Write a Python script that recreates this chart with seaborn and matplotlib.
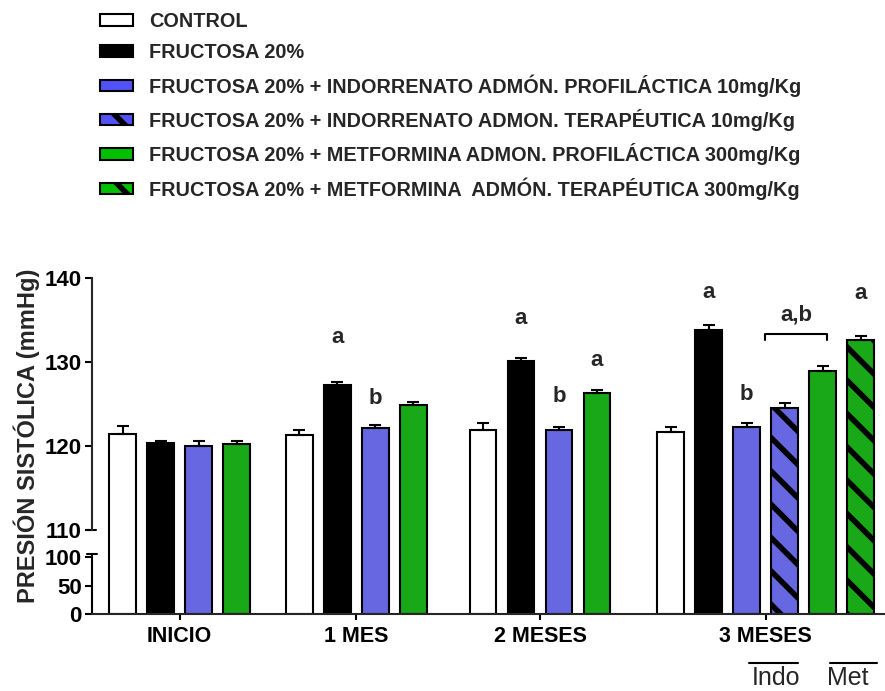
import numpy as np
import pandas as pd
import matplotlib
matplotlib.use("Agg")
import matplotlib.pyplot as plt
import matplotlib.transforms as mtransforms
from matplotlib.patches import Patch
import seaborn as sns

# ---------------- data ----------------
periods = ["INICIO", "1 MES", "2 MESES", "3 MESES"]
series = [
    "CONTROL",
    "FRUCTOSA 20%",
    "FRUCTOSA 20% + INDORRENATO ADMÓN. PROFILÁCTICA 10mg/Kg",
    "FRUCTOSA 20% + INDORRENATO ADMON. TERAPÉUTICA 10mg/Kg",
    "FRUCTOSA 20% + METFORMINA ADMON. PROFILÁCTICA 300mg/Kg",
    "FRUCTOSA 20% + METFORMINA  ADMÓN. TERAPÉUTICA 300mg/Kg",
]
control_mean = [121.5, 121.3, 121.9, 121.7]
control_sem = [0.9, 0.6, 0.8, 0.6]
fructosa_mean = [120.4, 127.3, 130.2, 133.8]
fructosa_sem = [0.2, 0.3, 0.3, 0.6]
indo_prof_mean = [120.0, 122.1, 121.9, 122.3]
indo_prof_sem = [0.6, 0.4, 0.4, 0.5]
indo_ter_mean = [None, None, None, 124.5]
indo_ter_sem = [None, None, None, 0.6]
met_prof_mean = [120.2, 124.9, 126.3, 129.0]
met_prof_sem = [0.4, 0.35, 0.35, 0.5]
met_ter_mean = [None, None, None, 132.65]
met_ter_sem = [None, None, None, 0.5]

y_ticks = [0, 50, 100, 110, 120, 130, 140]
y_label = "PRESIÓN SISTÓLICA (mmHg)"

# significance letters: (period, series index, text, baseline level in mmHg)
sig_letters = [
    ("1 MES", 1, "a", 132.3), ("1 MES", 2, "b", 125.05),
    ("2 MESES", 1, "a", 134.55), ("2 MESES", 2, "b", 125.25), ("2 MESES", 4, "a", 129.5),
    ("3 MESES", 1, "a", 137.7), ("3 MESES", 2, "b", 125.45), ("3 MESES", 5, "a", 137.5),
]
bracket_label = "a,b"

# ---------------- style ----------------
sns.set_style("ticks")
plt.rcParams["font.family"] = ["Liberation Sans", "DejaVu Sans"]
plt.rcParams["font.weight"] = "bold"
plt.rcParams["hatch.linewidth"] = 4.0
plt.rcParams["axes.linewidth"] = 1.5

colors = ["#FFFFFF", "#000000", "#5252F7", "#5252F7", "#00C000", "#00C000"]
hatches = [None, None, None, "\\", None, "\\"]

# ---------------- layout (bar units) ----------------
group_centers = [1.516, 6.17, 11.0, 16.94]
bar_pitch = 1.0

means = [control_mean, fructosa_mean, indo_prof_mean, indo_ter_mean, met_prof_mean, met_ter_mean]
sems = [control_sem, fructosa_sem, indo_prof_sem, indo_ter_sem, met_prof_sem, met_ter_sem]

rows = []
pos_lookup = {}
for gi, p in enumerate(periods):
    present = [si for si in range(len(series)) if means[si][gi] is not None]
    n = len(present)
    for k, si in enumerate(present):
        x = group_centers[gi] + (k - (n - 1) / 2) * bar_pitch
        pos_lookup[(p, si)] = x
        rows.append({"x": x, "value": means[si][gi], "sem": sems[si][gi],
                     "series": series[si], "period": p})
df = pd.DataFrame(rows)

fig = plt.figure(figsize=(8.85, 6.91), dpi=100)
W, H = 885, 691
ax = fig.add_axes([91.5 / W, 1 - 614 / H, (W - 91.5) / W, 335.7 / H])

sns.barplot(data=df, x="x", y="value", hue="series", hue_order=series,
            palette=dict(zip(series, colors)), native_scale=True, dodge=False,
            errorbar=None, width=0.7, edgecolor="black", linewidth=1.5,
            legend=False, ax=ax)

for cont, h in zip(ax.containers, hatches):
    if h:
        for patch in cont:
            patch.set_hatch(h)

ax.errorbar(df["x"], df["value"], yerr=[np.zeros(len(df)), df["sem"]], fmt="none",
            ecolor="black", elinewidth=1.5, capsize=4.5, capthick=1.5, zorder=5)

# broken (segmented) value axis
def fwd(v):
    v = np.asarray(v, dtype=float)
    return np.where(v <= 100, v * 0.57,
                    np.where(v <= 110, 57 + (v - 100) * 2.7, 84 + (v - 110) * 8.39))

def inv(u):
    u = np.asarray(u, dtype=float)
    return np.where(u <= 57, u / 0.57,
                    np.where(u <= 84, 100 + (u - 57) / 2.7, 110 + (u - 84) / 8.39))

ax.set_yscale("function", functions=(fwd, inv))
ax.set_ylim(0, 140)
ax.set_xlim(-0.803, 20.08)
ax.set_yticks(y_ticks)
ax.set_yticklabels([str(t) for t in y_ticks], fontsize=16, fontweight="bold")
ax.set_xticks(group_centers)
ax.set_xticklabels(periods, fontsize=15.5, fontweight="bold")
ax.tick_params(axis="y", length=5.4, width=1.5, pad=1.7, colors="black")
ax.tick_params(axis="x", length=4.5, width=1.5, pad=4.3, colors="black")
ax.set_xlabel("")
ax.set_ylabel(y_label, fontsize=17, fontweight="bold")
ax.yaxis.label.set_verticalalignment("center")
ax.yaxis.set_label_coords((27 - 91.5) / (W - 91.5), (614 - 436) / 335.7)

sns.despine(ax=ax)
ax.spines["left"].set_bounds(110, 140)
ax.spines["bottom"].set_linewidth(1.5)
tr = mtransforms.blended_transform_factory(ax.transAxes, ax.transData)
dx = 5 / (W - 91.5)
ax.plot([0, 0], [0, 101], transform=tr, color="black", lw=1.5, clip_on=False,
        solid_capstyle="butt")
ax.plot([-dx, dx], [101, 101], transform=tr, color="black", lw=1.5, clip_on=False)
ax.plot([-dx, dx * 0.8], [110, 110], transform=tr, color="black", lw=1.5, clip_on=False)

# significance letters
for p, si, txt, lvl in sig_letters:
    ax.text(pos_lookup[(p, si)], lvl, txt, ha="center", va="baseline",
            fontsize=16, fontweight="bold")

xb0 = pos_lookup[("3 MESES", 3)] - 0.51
xb1 = pos_lookup[("3 MESES", 4)] + 0.12
ax.plot([xb0, xb0, xb1, xb1], [132.65, 133.4, 133.4, 132.65], color="black", lw=1.5,
        clip_on=False)
ax.text((xb0 + xb1) / 2, 135.0, bracket_label, ha="center", va="baseline",
        fontsize=16, fontweight="bold")

# Indo / Met group markers under the 3 MESES group
trf = mtransforms.blended_transform_factory(ax.transData, fig.transFigure)
yl = 1 - 663.3 / H
ybase = 1 - 685 / H
p_blue = pos_lookup[("3 MESES", 2)]
p_bh = pos_lookup[("3 MESES", 3)]
p_green = pos_lookup[("3 MESES", 4)]
p_gh = pos_lookup[("3 MESES", 5)]
ax.plot([p_blue + 0.07, p_bh + 0.36], [yl, yl], transform=trf, color="black", lw=1.5,
        clip_on=False)
ax.plot([p_green + 0.19, p_gh + 0.44], [yl, yl], transform=trf, color="black", lw=1.5,
        clip_on=False)
ax.text(p_bh - 0.23, ybase, "Indo", transform=trf, ha="center", va="baseline",
        fontsize=18, fontweight="normal")
ax.text(p_gh - 0.33, ybase, "Met", transform=trf, ha="center", va="baseline",
        fontsize=18, fontweight="normal")

# legend
handles = [Patch(facecolor=c, edgecolor="black", hatch=h, linewidth=1.5)
           for c, h in zip(colors, hatches)]
fig.legend(handles, series, loc="upper left", bbox_to_anchor=(100 / W, 1 - 12 / H),
           frameon=False, prop={"weight": "bold", "size": 14.3},
           handlelength=1.66, handleheight=0.5, handletextpad=0.82,
           labelspacing=0.61, borderpad=0, borderaxespad=0)

fig.savefig("out.png", dpi=100)
